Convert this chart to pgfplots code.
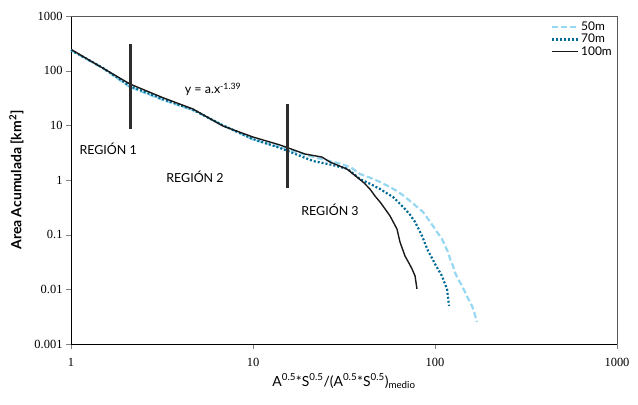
\documentclass[border=0pt]{standalone}
\usepackage{fontspec}
\setmainfont{Liberation Serif}
\newfontfamily\opt{Lato}
\newfontfamily\tickf{Liberation Serif}
\usepackage{pgfplots}
\pgfplotsset{compat=1.18}
\definecolor{lblue}{RGB}{150,215,242}
\definecolor{dblue}{RGB}{0,108,150}
\definecolor{bar}{RGB}{45,45,45}
\begin{document}
\begin{tikzpicture}
\begin{axis}[
  scale only axis,
  width=546bp, height=328bp,
  xmode=log, ymode=log,
  xmin=1, xmax=1000, ymin=0.001, ymax=1000,
  axis lines*=left,
  axis line style={-, black, line width=0.8bp},
  xtick={1,10,100,1000}, ytick={0.001,0.01,0.1,1,10,100,1000},
  xticklabels={\tickf 1,\tickf 10,\tickf 100,\tickf 1000},
  yticklabels={\tickf 0.001,\tickf 0.01,\tickf 0.1,\tickf 1,\tickf 10,\tickf 100,\tickf 1000},
  minor tick num=0,
  /pgf/number format/assume math mode=true,
  tick label style={font=\tickf\fontsize{12.5}{14}\selectfont},
  xticklabel style={yshift=-6bp},
  tick align=outside,
  major tick length=5bp,
  minor tick length=0pt,
  xlabel={\opt\fontsize{14}{16}\selectfont A\textsuperscript{0.5}*S\textsuperscript{0.5}/(A\textsuperscript{0.5}*S\textsuperscript{0.5})\textsubscript{medio}},
  ylabel={\opt\bfseries\fontsize{14}{16}\selectfont Area Acumulada [km\textsuperscript{2}]},
  xlabel style={yshift=0bp},
  ylabel style={yshift=4bp},
  clip=false,
  legend style={draw=none, fill=none, at={(1,1)}, anchor=north east,
    font=\opt\fontsize{12}{13}\selectfont, inner sep=2bp, row sep=-2bp,
    xshift=-1bp, yshift=-2bp},
  legend cell align=left,
  legend image code/.code={\draw[#1] (0bp,0bp) -- (26bp,0bp);},
]
\addplot[lblue, line width=2.2bp, dash pattern=on 6bp off 3bp] coordinates {
(1.0,235)(1.5,110)(2.11,50)(3.2,29)(4.68,19)(6.84,10)(10,5.5)(14.1,4.0)
(19.3,2.9)(24,2.4)(30,2.0)(34.5,1.7)(38.7,1.29)(44,1.1)(49.9,0.92)(55,0.78)
(61.8,0.629)(67,0.52)(72.9,0.413)(79,0.33)(85.9,0.26)(91,0.2)(97.5,0.144)(103,0.11)
(109.2,0.0834)(113,0.065)(117.8,0.0483)(121,0.036)(125.6,0.0268)(129,0.02)(133.7,0.0155)
(140,0.012)(146.1,0.00896)(152,0.0068)(159.7,0.00497)(165,0.0036)(170.1,0.00254)};
\addlegendentry{50m}
\addplot[dblue, line width=2.2bp, dash pattern=on 2bp off 2bp] coordinates {
(1.0,238)(1.5,112)(2.11,52)(3.2,30)(4.68,19.3)(6.84,10.0)(10,5.6)(14.1,3.85)
(17.5,2.9)(21.4,2.22)(27,1.9)(33,1.6)(38.7,1.04)(44,0.85)(49.9,0.685)(54,0.58)
(58.8,0.489)(63,0.39)(68.4,0.295)(73,0.23)(77.7,0.171)(81,0.13)(84.9,0.0947)(88,0.07)
(91.6,0.0504)(96,0.038)(100,0.0291)(105,0.022)(109.2,0.0176)(113,0.013)
(116.4,0.0102)(118,0.007)(119.4,0.00497)};
\addlegendentry{70m}
\addplot[black!90, line width=1.4bp] coordinates {
(1.009,241)(1.44,120)(2.11,56.9)(3.2,32)(4.68,19.9)(6.84,9.71)(10,6.11)
(14.1,4.36)(19.3,2.99)(23.9,2.63)(26.5,2.13)(32.8,1.59)(37.3,1.13)(40.5,0.9)
(43.9,0.685)(47,0.5)(49.9,0.396)(53,0.3)(56.6,0.22)(59,0.17)(61.8,0.127)(64.2,0.0736)
(68.4,0.0408)(72,0.03)(74.8,0.0236)(77.7,0.0176)(79.6,0.0102)};
\addlegendentry{100m}
\addplot[bar, line width=3bp, forget plot] coordinates {(2.11,306)(2.11,8.56)};
\addplot[bar, line width=3bp, forget plot] coordinates {(15.4,24.5)(15.4,0.714)};
\draw[black!65, line width=0.8bp] (rel axis cs:0,1) -- (rel axis cs:1,1) -- (rel axis cs:1,0);
\node[font=\opt\fontsize{12.5}{14}\selectfont] at (axis cs:6.03,46) {y = a.x\textsuperscript{-1.39}};
\node[font=\opt\fontsize{12.5}{14}\selectfont] at (axis cs:1.60,3.69) {REGIÓN 1};
\node[font=\opt\fontsize{12.5}{14}\selectfont] at (axis cs:4.80,1.13) {REGIÓN 2};
\node[font=\opt\fontsize{12.5}{14}\selectfont] at (axis cs:26.5,0.283) {REGIÓN 3};
\coordinate (sw) at (rel axis cs:0,0);
\coordinate (ne) at (rel axis cs:1,1);
\end{axis}
\pgfresetboundingbox
\path ([shift={(-71bp,-61bp)}]sw) rectangle ([shift={(21bp,16bp)}]ne);
\end{tikzpicture}
\end{document}
